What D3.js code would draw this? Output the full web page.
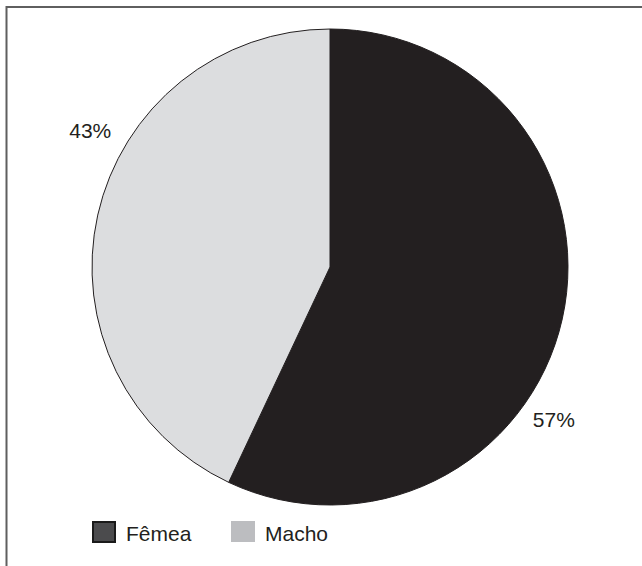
<!DOCTYPE html>
<html>
<head>
<meta charset="utf-8">
<script src="https://cdn.jsdelivr.net/npm/d3@7"></script>
<style>
  html, body { margin: 0; padding: 0; background: #fff; }
  svg { display: block; }
  text { font-family: "Liberation Sans", Arial, sans-serif; }
</style>
</head>
<body>
<svg id="chart" width="642" height="566"></svg>
<script>
// Data
const categories = ["Fêmea", "Macho"];
const values = [57, 43];
const labels = ["57%", "43%"];
const sliceColors = ["#231f20", "#dcdddf"];
const legendColors = ["#4b4b4d", "#bcbdc0"];
const labelAngleOffsetDeg = [21.7, 17.1];
const labelRadius = [271, 276];

const W = 642, H = 566;
const svg = d3.select("#chart");

// frame (extends beyond right/bottom edges)
svg.append("rect")
  .attr("x", 6.5).attr("y", 7)
  .attr("width", W + 20).attr("height", H + 20)
  .attr("fill", "none")
  .attr("stroke", "#5f5f5f")
  .attr("stroke-width", 2);

const cx = 330, cy = 267, R = 238;
const g = svg.append("g").attr("transform", `translate(${cx},${cy})`);

const pie = d3.pie().sort(null).value(d => d)(values);
const arc = d3.arc().innerRadius(0).outerRadius(R);

g.selectAll("path.slice")
  .data(pie)
  .join("path")
  .attr("class", "slice")
  .attr("d", arc)
  .attr("fill", (d, i) => sliceColors[i])
  .attr("stroke", "#231f20")
  .attr("stroke-width", 1);

// labels
pie.forEach((d, i) => {
  const a = (d.startAngle + d.endAngle) / 2 + labelAngleOffsetDeg[i] * Math.PI / 180;
  const r = labelRadius[i];
  const x = r * Math.sin(a), y = -r * Math.cos(a);
  g.append("text")
    .attr("x", x).attr("y", y)
    .attr("text-anchor", "middle")
    .attr("dominant-baseline", "central")
    .attr("font-size", 21)
    .attr("fill", "#231f20")
    .text(labels[i]);
});

// legend
const legendX = [92, 231];
const legend = svg.append("g");
categories.forEach((c, i) => {
  const lg = legend.append("g").attr("transform", `translate(${legendX[i]},521)`);
  lg.append("rect")
    .attr("x", i === 0 ? 1 : 0).attr("y", i === 0 ? 1 : 0)
    .attr("width", i === 0 ? 22 : 24).attr("height", i === 0 ? 20 : 21)
    .attr("fill", legendColors[i])
    .attr("stroke", i === 0 ? "#1a1a1a" : "none")
    .attr("stroke-width", 2);
  lg.append("text")
    .attr("x", 34).attr("y", 20)
    .attr("font-size", 21)
    .attr("fill", "#231f20")
    .text(c);
});
</script>
</body>
</html>
